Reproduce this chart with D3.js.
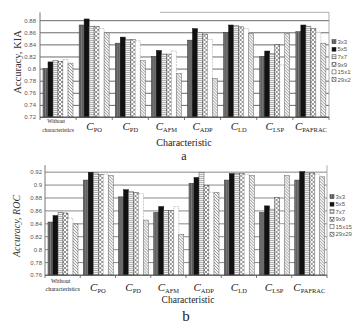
<!DOCTYPE html>
<html><head><meta charset="utf-8">
<script src="https://cdn.jsdelivr.net/npm/d3@7"></script>
<style>html,body{margin:0;padding:0;background:#fff;}svg{display:block;}</style>
</head><body>
<svg id="chart" width="363" height="330"></svg>
<script>
const categories = ["Without characteristics","PO","PD","AFM","ADP","LD","LSP","PAFRAC"];
const series = ["3x3","5x5","7x7","9x9","15x15","29x29"];

const kia3x3   = [0.800,0.872,0.842,0.820,0.847,0.860,0.820,0.861];
const kia5x5   = [0.811,0.882,0.852,0.830,0.866,0.872,0.829,0.872];
const kia7x7   = [0.813,0.870,0.848,0.824,0.860,0.871,0.825,0.870];
const kia9x9   = [0.812,0.870,0.848,0.824,0.857,0.869,0.840,0.866];
const kia15x15 = [0.815,0.866,0.846,0.829,0.848,0.866,0.806,0.860];
const kia29x29 = [0.809,0.859,0.813,0.792,0.784,0.858,0.858,0.842];

const roc3x3   = [0.842,0.907,0.881,0.857,0.902,0.907,0.857,0.907];
const roc5x5   = [0.852,0.919,0.892,0.866,0.911,0.917,0.867,0.920];
const roc7x7   = [0.857,0.918,0.889,0.860,0.919,0.917,0.862,0.918];
const roc9x9   = [0.856,0.916,0.888,0.860,0.899,0.917,0.880,0.918];
const roc15x15 = [0.848,0.916,0.886,0.866,0.888,0.916,0.839,0.916];
const roc29x29 = [0.839,0.914,0.845,0.823,0.888,0.914,0.914,0.912];

const kiaTicks = [0.72,0.74,0.76,0.78,0.80,0.82,0.84,0.86,0.88];
const rocTicks = [0.76,0.78,0.80,0.82,0.84,0.86,0.88,0.90,0.92];

const svg = d3.select("#chart");
const defs = svg.append("defs");

function pat(id, size, build){
  const p = defs.append("pattern").attr("id", id).attr("patternUnits","userSpaceOnUse")
    .attr("width", size).attr("height", size);
  build(p);
}
pat("p0", 2, p => { p.append("rect").attr("width",2).attr("height",2).attr("fill","#7c7c7c");
  p.append("rect").attr("width",1).attr("height",2).attr("fill","#585858"); });
pat("p1", 2, p => { p.append("rect").attr("width",2).attr("height",2).attr("fill","#111"); });
pat("p2", 2, p => { p.append("rect").attr("width",2).attr("height",2).attr("fill","#f2f2f2");
  p.append("rect").attr("width",2).attr("height",1).attr("fill","#b4b4b4"); });
pat("p3", 4, p => { p.append("rect").attr("width",4).attr("height",4).attr("fill","#fff");
  p.append("path").attr("d","M0,4L4,0M0,0L4,4").attr("stroke","#6a6a6a").attr("stroke-width",0.7); });
pat("p4", 2, p => { p.append("rect").attr("width",2).attr("height",2).attr("fill","#fff"); });
pat("p5", 3, p => { p.append("rect").attr("width",3).attr("height",3).attr("fill","#f4f4f4");
  p.append("path").attr("d","M0,0L3,3M-1,2L1,4M2,-1L4,1").attr("stroke","#888").attr("stroke-width",0.8); });
const fills = ["url(#p0)","url(#p1)","url(#p2)","url(#p3)","url(#p4)","url(#p5)"];
const strokes = ["#333","#111","#555","#444","#999","#666"];

function panel(cfg){
  const g = svg.append("g");
  const x0 = d3.scaleBand().domain(categories).range([cfg.left, cfg.right]).padding(0);
  const x1 = d3.scaleBand().domain(series).range(cfg.inner).padding(0);
  const y = d3.scaleLinear().domain(cfg.domain).range([cfg.bottom, cfg.top]);

  const ax = g.append("g").attr("transform", `translate(${cfg.left},0)`)
    .call(d3.axisLeft(y).tickValues(cfg.ticks).tickSize(-(cfg.right-cfg.left)).tickPadding(4)
      .tickFormat(d => String(+d.toFixed(2))));
  ax.select(".domain").remove();
  ax.selectAll(".tick line").attr("stroke", cfg.grid).attr("stroke-width", 0.9);
  ax.selectAll(".tick text").attr("font-family","Liberation Sans, Arial, sans-serif")
    .attr("font-size", 6).attr("fill","#555").attr("x", cfg.labelX - cfg.left);

  const rows = categories.map((c,i) => ({cat:c, vals: cfg.data.map(s => s[i])}));
  const grp = g.selectAll("g.grp").data(rows).join("g")
    .attr("transform", d => `translate(${x0(d.cat)},0)`);
  grp.selectAll("rect").data(d => d.vals.map((v,j) => ({v, s: series[j], j})))
    .join("rect")
    .attr("x", d => x1(d.s)).attr("width", x1.bandwidth())
    .attr("y", d => y(d.v)).attr("height", d => cfg.bottom - y(d.v))
    .attr("fill", d => fills[d.j]).attr("stroke", d => strokes[d.j]).attr("stroke-width", 0.5)
    .attr("stroke-dasharray", d => d.j === 4 ? "2,1" : null);

  g.append("line").attr("x1", cfg.left).attr("x2", cfg.left).attr("y1", cfg.frameTop).attr("y2", cfg.bottom)
    .attr("stroke","#666").attr("stroke-width",0.9);
  g.append("line").attr("x1", cfg.right).attr("x2", cfg.right).attr("y1", cfg.frameTop).attr("y2", cfg.bottom)
    .attr("stroke","#999").attr("stroke-width",0.8);
  if (cfg.topLineFrom) g.append("line").attr("x1", cfg.topLineFrom).attr("x2", cfg.right)
    .attr("y1", cfg.frameTop).attr("y2", cfg.frameTop).attr("stroke","#999").attr("stroke-width",0.8);
  g.append("line").attr("x1", cfg.left).attr("x2", cfg.right).attr("y1", cfg.bottom).attr("y2", cfg.bottom)
    .attr("stroke","#555").attr("stroke-width",0.9);
  g.selectAll("line.tk").data(categories.concat(["end"])).join("line").attr("class","tk")
    .attr("x1", (d,i) => cfg.left + i*x0.step()).attr("x2", (d,i) => cfg.left + i*x0.step())
    .attr("y1", cfg.bottom).attr("y2", cfg.bottom + 3).attr("stroke","#555").attr("stroke-width",0.8);

  categories.forEach((c,i) => {
    const cx = x0(c) + x0.bandwidth()/2;
    if (i === 0) {
      const t = g.append("text").attr("text-anchor","middle")
        .attr("font-family","Liberation Serif, Times New Roman, serif").attr("font-size", cfg.wSize).attr("fill","#222");
      t.append("tspan").attr("x", cx - 2).attr("y", cfg.wY1).text("Without");
      t.append("tspan").attr("x", cx).attr("y", cfg.wY2).text("characteristics");
    } else {
      const t = g.append("text").attr("text-anchor","middle").attr("x", cx).attr("y", cfg.cY)
        .attr("font-family","Liberation Serif, Times New Roman, serif").attr("fill","#222");
      t.append("tspan").attr("font-style","italic").attr("font-size", 11).text("C");
      t.append("tspan").attr("font-size", 6.5).attr("dy", 1.5).text(c);
    }
  });

  svg.append("text").attr("transform", `translate(${cfg.yTitleX},${cfg.yTitleY}) rotate(-90)`)
    .attr("text-anchor","middle").attr("font-family","Liberation Serif, Times New Roman, serif")
    .attr("font-size", cfg.yTitleSize).attr("font-style", cfg.yTitleStyle).attr("fill","#333").text(cfg.yTitle);
  svg.append("text").attr("x", cfg.xTitleX).attr("y", cfg.xTitleY).attr("text-anchor","middle")
    .attr("font-family","Liberation Serif, Times New Roman, serif").attr("font-size", cfg.xTitleSize)
    .attr("fill","#222").text("Characteristic");
  svg.append("text").attr("x", cfg.letterX).attr("y", cfg.letterY).attr("text-anchor","middle")
    .attr("font-family","Liberation Serif, Times New Roman, serif").attr("font-size", cfg.letterSize)
    .attr("fill","#222").text(cfg.letter);

  const clipId = "clip" + cfg.letter;
  defs.append("clipPath").attr("id", clipId).append("rect")
    .attr("x", 300).attr("y", 0).attr("width", cfg.legendClip - 300).attr("height", 330);
  const lg = svg.append("g").attr("clip-path", `url(#${clipId})`);
  series.forEach((s,j) => {
    const yy = cfg.legendY + j*cfg.legendStep;
    lg.append("rect").attr("x", cfg.legendX).attr("y", yy - 2).attr("width", 4).attr("height", 4)
      .attr("fill", fills[j]).attr("stroke", "#333").attr("stroke-width", 0.5);
    lg.append("text").attr("x", cfg.legendX + 5.5).attr("y", yy + 2.2)
      .attr("font-family","Liberation Sans, Arial, sans-serif").attr("font-size", 6)
      .attr("fill","#555").text(s);
  });
}

panel({
  data:[kia3x3,kia5x5,kia7x7,kia9x9,kia15x15,kia29x29],
  left:40, right:329, inner:[3,33], top:12.3, bottom:117, frameTop:12.3, domain:[0.72,0.893],
  ticks:kiaTicks, grid:"#5a5a5a", labelX:36, topLineFrom:160,
  wSize:5.5, wY1:123, wY2:132, cY:130,
  yTitle:"Accuracy, KIA", yTitleX:21, yTitleY:62, yTitleSize:10.5, yTitleStyle:"normal",
  xTitleX:184, xTitleY:145.5, xTitleSize:10,
  letter:"a", letterX:184, letterY:160, letterSize:12,
  legendX:332, legendY:41.7, legendStep:7.55, legendClip:351
});
panel({
  data:[roc3x3,roc5x5,roc7x7,roc9x9,roc15x15,roc29x29],
  left:45, right:327, inner:[3,33], top:165.2, bottom:275, frameTop:165.2, domain:[0.76,0.93],
  ticks:rocTicks, grid:"#7a7a7a", labelX:42, topLineFrom:null,
  wSize:6, wY1:283, wY2:290.5, cY:291,
  yTitle:"Accuracy, ROC", yTitleX:20, yTitleY:226, yTitleSize:10, yTitleStyle:"italic",
  xTitleX:188, xTitleY:303, xTitleSize:9.5,
  letter:"b", letterX:186, letterY:321, letterSize:15,
  legendX:330, legendY:196.7, legendStep:7.5, legendClip:363
});
</script>
</body></html>
